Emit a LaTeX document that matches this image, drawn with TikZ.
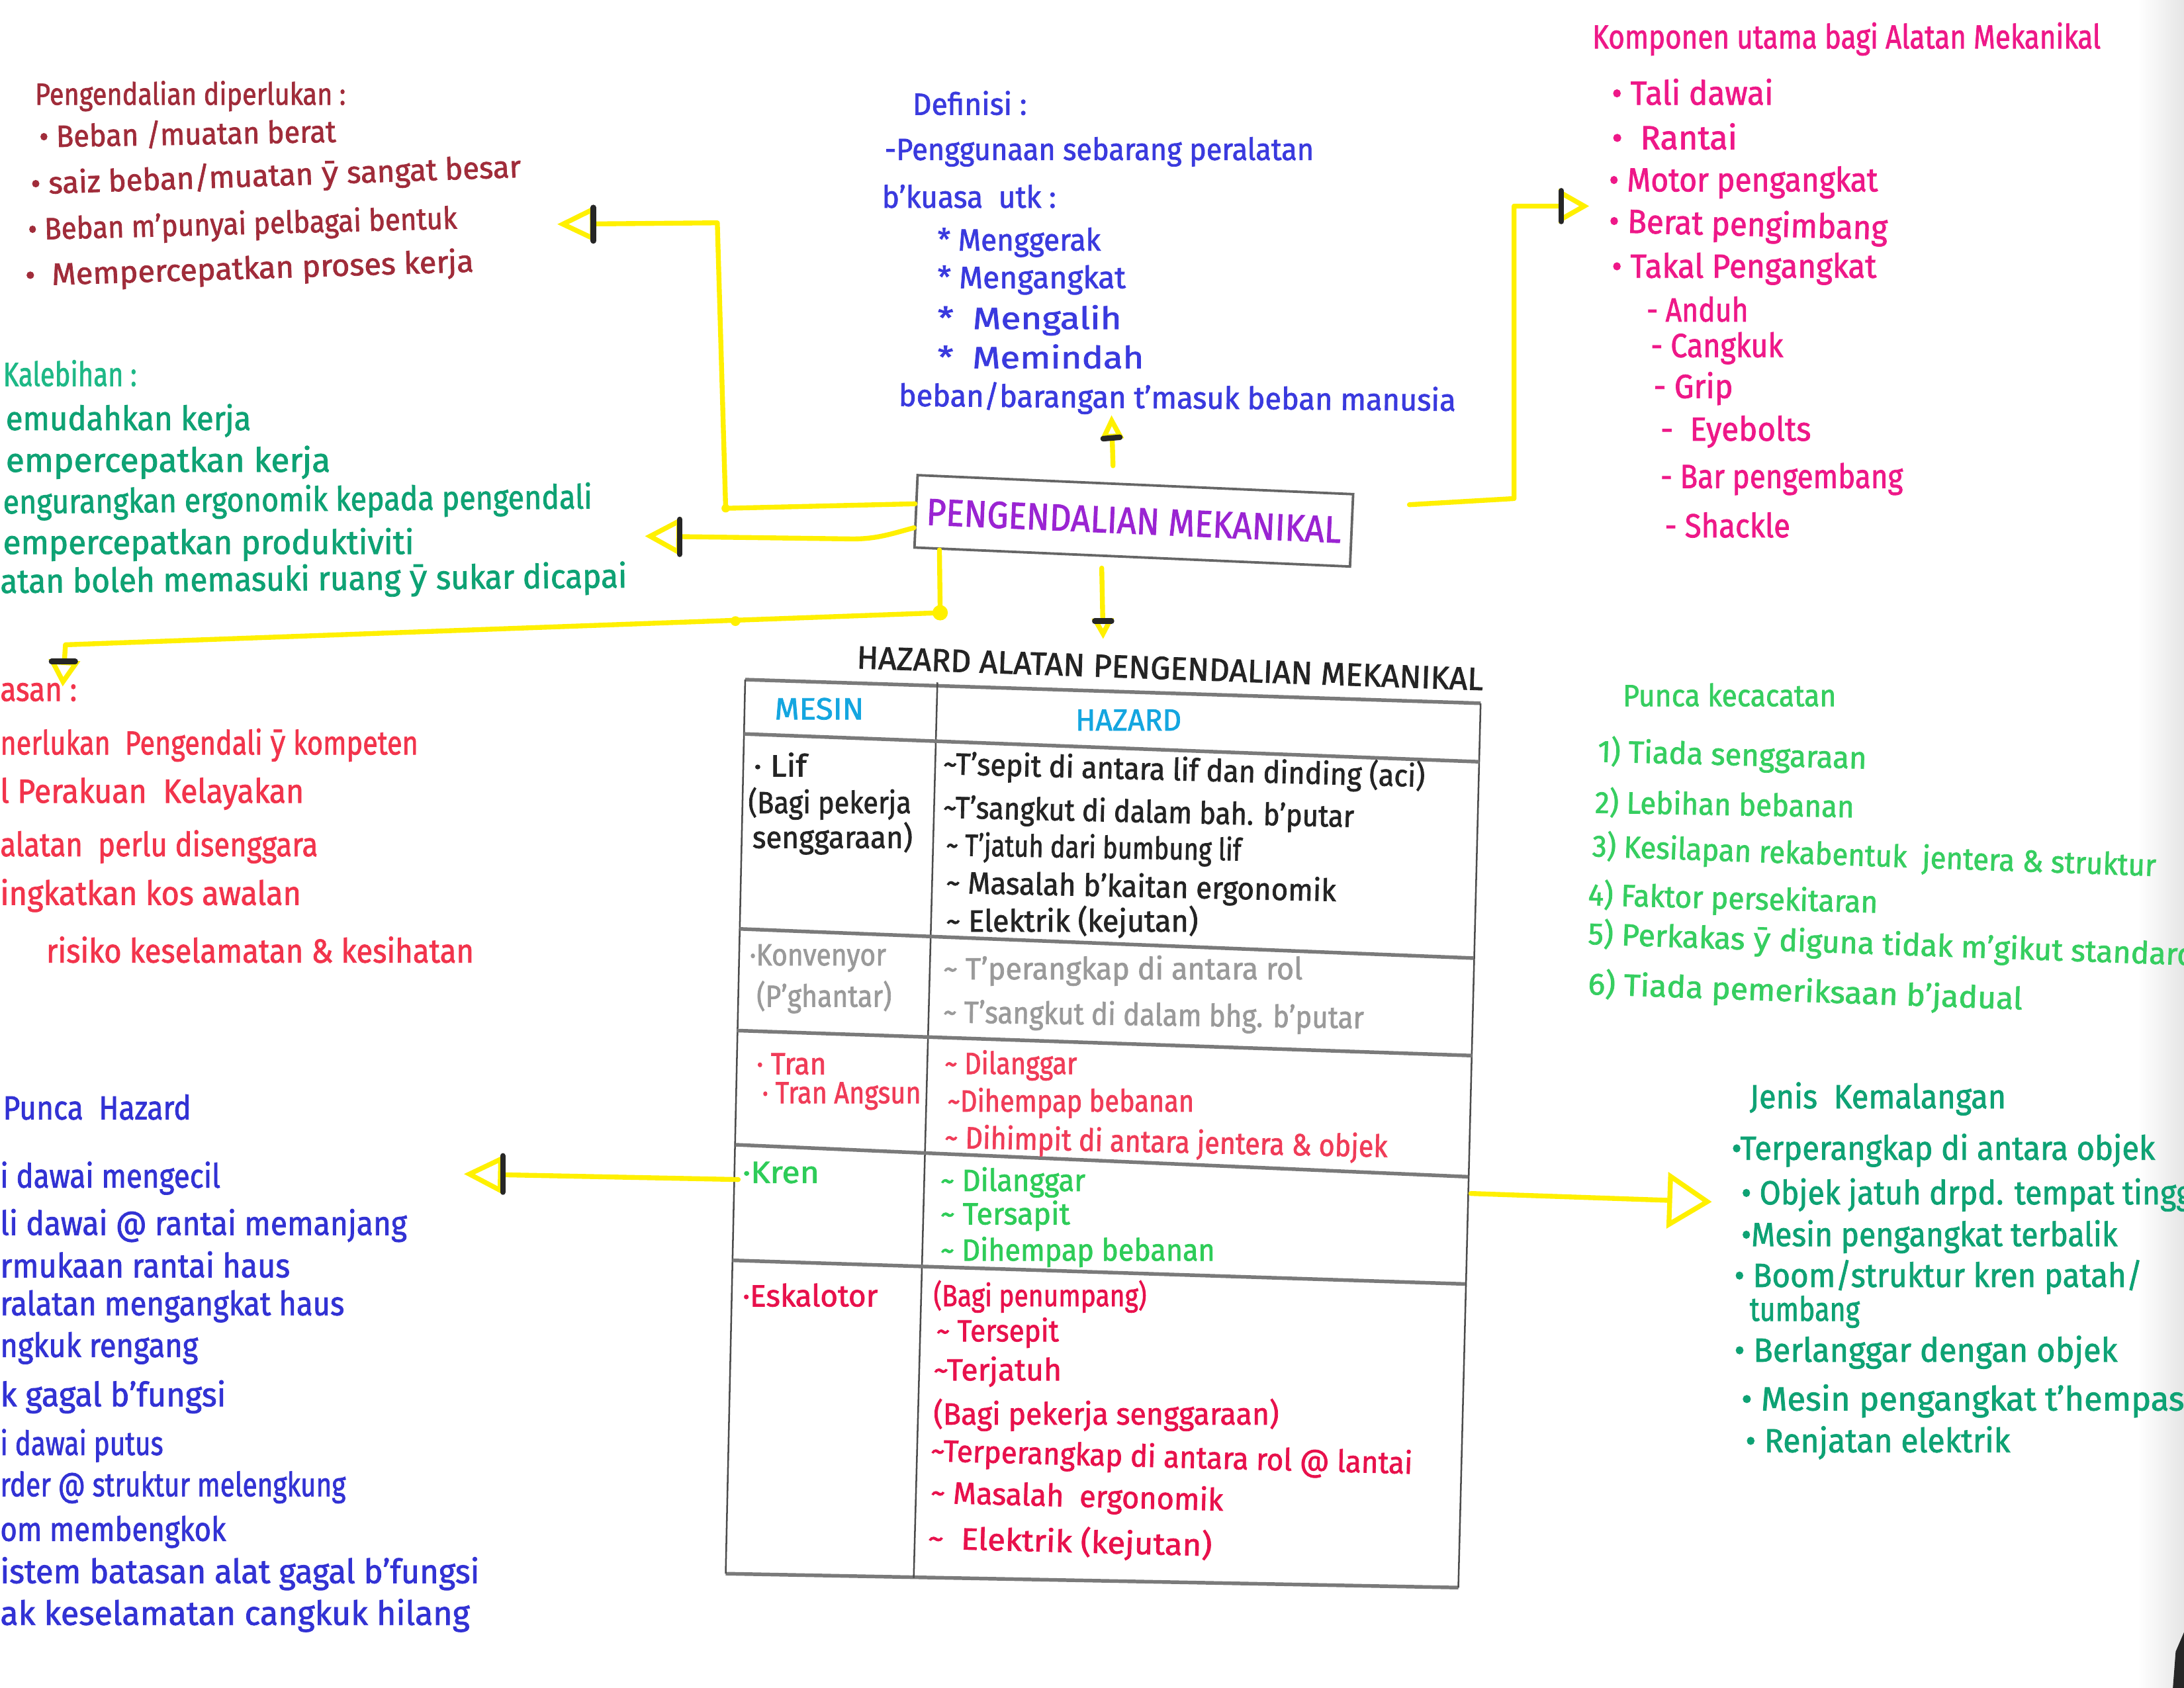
\documentclass[tikz,border=0pt]{standalone}
\usepackage{fontspec}
\setmainfont{Fira Sans}[FakeBold=1.6]
\newfontfamily\djv{DejaVu Sans}[FakeBold=1.6]
\usetikzlibrary{arrows.meta,calc}
\definecolor{cMaroon}{HTML}{A02C3A}
\definecolor{cDef}{HTML}{3A3ADE}
\definecolor{cMag}{HTML}{EE1888}
\definecolor{cTeal}{HTML}{0EA274}
\definecolor{cTealL}{HTML}{1EB886}
\definecolor{cRed}{HTML}{F2344C}
\definecolor{cPurp}{HTML}{9A24D2}
\definecolor{cCyan}{HTML}{14A6E0}
\definecolor{cInk}{HTML}{242424}
\definecolor{cGrayT}{HTML}{9A9A9A}
\definecolor{cTran}{HTML}{F03C58}
\definecolor{cKren}{HTML}{2ECC58}
\definecolor{cEsk}{HTML}{E8114C}
\definecolor{cPk}{HTML}{36CE60}
\definecolor{cHz}{HTML}{3232D4}
\definecolor{cYel}{HTML}{FFF000}
\definecolor{cLine}{HTML}{7A7A7A}
\newcommand{\tw}[2]{\resizebox{#1pt}{\height}{#2}}
\newcommand{\yy}{{\djv ȳ}}
\newcommand{\tl}{\textasciitilde}
\tikzset{
 txt/.style={anchor=west, inner sep=0pt, font=\fontsize{24}{26}\selectfont},
 tsm/.style={anchor=west, inner sep=0pt, font=\fontsize{22}{24}\selectfont},
 pdT/.style={tsm, text=cMaroon},
 dfT/.style={tsm, text=cDef},
 kpT/.style={txt, text=cMag},
 klT/.style={txt, text=cTeal},
 kkT/.style={txt, text=cRed},
 phT/.style={txt, text=cHz},
 pkT/.style={tsm, text=cPk},
 jkT/.style={txt, text=cTeal},
 tbT/.style={tsm},
 yline/.style={draw=cYel, line width=3.5pt, line join=round, line cap=round},
 bbar/.style={draw=black!85, line width=4pt, line cap=round},
 hrule/.style={draw=cLine, line width=2.6pt},
 vrule/.style={draw=black!70, line width=1.2pt}
}
\begin{document}
\begin{tikzpicture}[x=1pt,y=-1pt]
\useasboundingbox (0,0) rectangle (1568,1212);
\fill[white] (0,0) rectangle (1568,1212);
\shade[left color=white, right color=black!10] (1535,0) rectangle (1568,1212);
\fill[black!85] (1568,1172) -- (1562,1186) -- (1560,1212) -- (1568,1212) -- cycle;

% ---------- Pengendalian diperlukan ----------
\node[pdT] (pd0) at (25,69) {\tw{223}{Pengendalian diperlukan :}};
\node[pdT, rotate=1] (pd1) at (28,98) {\tw{213}{• Beban /muatan berat}};
\node[pdT, rotate=2] (pd2) at (22,133) {\tw{352}{• saiz beban/muatan \yy\ sangat besar}};
\node[pdT, rotate=1.5] (pd3) at (20,166) {\tw{308}{• Beban m’punyai pelbagai bentuk}};
\node[pdT, rotate=1.8] (pd4) at (18,199) {\tw{322}{•\ \ Mempercepatkan proses kerja}};

% ---------- Definisi ----------
\node[dfT] (df0) at (655,74) {\tw{82}{Definisi :}};
\node[dfT] (df1) at (635,109) {\tw{308}{-Penggunaan sebarang peralatan}};
\node[dfT] (df2) at (633,141) {\tw{125}{b’kuasa\ \ utk :}};
\node[dfT] (df3) at (673,174) {\tw{117}{* Menggerak}};
\node[dfT] (df4) at (673,201) {\tw{135}{* Mengangkat}};
\node[dfT] (df5) at (673,230) {\tw{132}{*\ \ Mengalih}};
\node[dfT] (df6) at (673,256) {\tw{148}{*\ \ Memindah}};
\node[dfT, rotate=-0.5] (df7) at (645,285) {\tw{400}{beban/barangan t’masuk beban manusia}};

% ---------- Komponen ----------
\node[kpT] (kp0) at (1143,28) {\tw{365}{Komponen utama bagi Alatan Mekanikal}};
\node[kpT] (kp1) at (1157,66) {\tw{116}{• Tali dawai}};
\node[kpT] (kp2) at (1157,98) {\tw{90}{•\ \ Rantai}};
\node[kpT] (kp3) at (1155,131) {\tw{193}{• Motor pengangkat}};
\node[kpT, rotate=-1.5] (kp4) at (1155,160) {\tw{200}{• Berat pengimbang}};
\node[kpT] (kp5) at (1157,193) {\tw{190}{• Takal Pengangkat}};
\node[kpT] (kp6) at (1182,222) {\tw{73}{- Anduh}};
\node[kpT] (kp7) at (1185,250) {\tw{95}{- Cangkuk}};
\node[kpT] (kp8) at (1187,279) {\tw{57}{- Grip}};
\node[kpT] (kp9) at (1192,310) {\tw{108}{-\ \ Eyebolts}};
\node[kpT] (kp10) at (1192,344) {\tw{174}{- Bar pengembang}};
\node[kpT] (kp11) at (1195,377) {\tw{90}{- Shackle}};

% ---------- Kelebihan ----------
\node[klT, text=cTealL] (kl0) at (2,268) {\tw{96}{Kalebihan :}};
\node[klT] (kl1) at (4,302) {\tw{176}{emudahkan kerja}};
\node[klT] (kl2) at (4,332) {\tw{233}{empercepatkan kerja}};
\node[klT, rotate=0.5] (kl3) at (2,362) {\tw{423}{engurangkan ergonomik kepada pengendali}};
\node[klT] (kl4) at (2,391) {\tw{295}{empercepatkan produktiviti}};
\node[klT, rotate=0.5] (kl5) at (0,419) {\tw{450}{atan boleh memasuki ruang \yy\ sukar dicapai}};

% ---------- Kekurangan ----------
\node[kkT] (kk0) at (0,497) {\tw{55}{asan :}};
\node[kkT] (kk1) at (0,535) {\tw{300}{nerlukan\ \ Pengendali \yy\ kompeten}};
\node[kkT] (kk2) at (0,570) {\tw{218}{l\ Perakuan\ \ Kelayakan}};
\node[kkT] (kk3) at (0,608) {\tw{228}{alatan\ \ perlu disenggara}};
\node[kkT] (kk4) at (0,643) {\tw{216}{ingkatkan kos awalan}};
\node[kkT] (kk5) at (33,682) {\tw{307}{risiko keselamatan \& kesihatan}};

% ---------- Punca Hazard ----------
\node[phT] (ph0) at (2,795) {\tw{135}{Punca\ \ Hazard}};
\node[phT] (ph1) at (0,846) {\tw{158}{i dawai mengecil}};
\node[phT] (ph2) at (0,880) {\tw{292}{li dawai @ rantai memanjang}};
\node[phT] (ph3) at (0,908) {\tw{208}{rmukaan rantai haus}};
\node[phT] (ph4) at (0,938) {\tw{247}{ralatan mengangkat haus}};
\node[phT] (ph5) at (0,968) {\tw{142}{ngkuk rengang}};
\node[phT] (ph6) at (0,1003) {\tw{162}{k gagal b’fungsi}};
\node[phT] (ph7) at (0,1038) {\tw{117}{i dawai putus}};
\node[phT] (ph8) at (0,1068) {\tw{248}{rder @ struktur melengkung}};
\node[phT] (ph9) at (0,1100) {\tw{162}{om membengkok}};
\node[phT] (ph10) at (0,1130) {\tw{344}{istem batasan alat gagal b’fungsi}};
\node[phT] (ph11) at (0,1160) {\tw{337}{ak keselamatan cangkuk hilang}};

% ---------- Central box ----------
\node[draw=black!60, line width=1.8pt, rotate=-2.5, minimum width=313pt, minimum height=52pt, inner sep=0pt, text=cPurp, font=\fontsize{27}{29}\selectfont] (pm) at (814,374) {\tw{298}{PENGENDALIAN MEKANIKAL}};

% ---------- Table ----------
\node[tbT, text=cInk, rotate=-2, font=\fontsize{23}{25}\selectfont] (tt) at (615,472) {\tw{450}{HAZARD ALATAN PENGENDALIAN MEKANIKAL}};
\coordinate (TL) at (535,488);
\coordinate (TR) at (1063,505);
\coordinate (BR) at (1047,1140);
\coordinate (BL) at (521,1130);
\draw[hrule] (TL) -- (TR);
\draw[hrule] (BL) -- (BR);
\draw[vrule] (TL) -- (BL);
\draw[vrule] (TR) -- (BR);
\draw[vrule] (673,490) -- (656,1133);
\draw[hrule] (534,527) -- (1062,547);
\draw[hrule] (531,667) -- (1058,688);
\draw[hrule] (529,740) -- (1057,758);
\draw[hrule] (528,822) -- (1054,845);
\draw[hrule] (526,905) -- (1052,922);

\node[tbT, text=cCyan] (mesin) at (556,509) {\tw{64}{MESIN}};
\node[tbT, text=cCyan] (hzd) at (772,517) {\tw{76}{HAZARD}};

\node[tbT, text=cInk] (t1a) at (541,549) {\tw{38}{· Lif}};
\node[tbT, text=cInk] (t1b) at (537,577) {\tw{117}{(Bagi pekerja}};
\node[tbT, text=cInk] (t1c) at (540,602) {\tw{115}{senggaraan)}};
\node[tbT, text=cInk, rotate=-1.5] (h1a) at (677,549) {\tw{346}{\tl T’sepit di antara lif dan dinding (aci)}};
\node[tbT, text=cInk, rotate=-1.3] (h1b) at (677,581) {\tw{295}{\tl T’sangkut di dalam bah. b’putar}};
\node[tbT, text=cInk, rotate=-1] (h1c) at (679,608) {\tw{212}{\tl\ T’jatuh dari bumbung lif}};
\node[tbT, text=cInk, rotate=-1.2] (h1d) at (679,635) {\tw{280}{\tl\ Masalah b’kaitan ergonomik}};
\node[tbT, text=cInk] (h1e) at (679,662) {\tw{181}{\tl\ Elektrik (kejutan)}};

\node[tbT, text=cGrayT] (t2a) at (538,688) {\tw{98}{·Konvenyor}};
\node[tbT, text=cGrayT] (t2b) at (543,716) {\tw{97}{(P’ghantar)}};
\node[tbT, text=cGrayT] (h2a) at (677,697) {\tw{258}{\tl\ T’perangkap di antara rol}};
\node[tbT, text=cGrayT, rotate=-0.8] (h2b) at (677,728) {\tw{302}{\tl\ T’sangkut di dalam bhg. b’putar}};

\node[tbT, text=cTran] (t3a) at (543,764) {\tw{50}{· Tran}};
\node[tbT, text=cTran] (t3b) at (547,787) {\tw{114}{· Tran Angsun}};
\node[tbT, text=cTran] (h3a) at (678,765) {\tw{95}{\tl\ Dilanggar}};
\node[tbT, text=cTran] (h3b) at (680,792) {\tw{177}{\tl Dihempap bebanan}};
\node[tbT, text=cTran, rotate=-1.2] (h3c) at (678,818) {\tw{318}{\tl\ Dihimpit di antara jentera \& objek}};

\node[tbT, text=cKren] (t4a) at (533,842) {\tw{55}{·Kren}};
\node[tbT, text=cKren] (h4a) at (675,849) {\tw{104}{\tl\ Dilanggar}};
\node[tbT, text=cKren] (h4b) at (675,873) {\tw{93}{\tl\ Tersapit}};
\node[tbT, text=cKren] (h4c) at (675,899) {\tw{197}{\tl\ Dihempap bebanan}};

\node[tbT, text=cEsk] (t5a) at (533,930) {\tw{97}{·Eskalotor}};
\node[tbT, text=cEsk] (h5a) at (670,931) {\tw{153}{(Bagi penumpang)}};
\node[tbT, text=cEsk] (h5b) at (672,957) {\tw{88}{\tl\ Tersepit}};
\node[tbT, text=cEsk] (h5c) at (670,985) {\tw{92}{\tl Terjatuh}};
\node[tbT, text=cEsk] (h5d) at (670,1016) {\tw{248}{(Bagi pekerja senggaraan)}};
\node[tbT, text=cEsk, rotate=-1.5] (h5e) at (668,1043) {\tw{346}{\tl Terperangkap di antara rol @ lantai}};
\node[tbT, text=cEsk, rotate=-1.5] (h5f) at (668,1073) {\tw{210}{\tl\ Masalah\ \ ergonomik}};
\node[tbT, text=cEsk, rotate=-1.5] (h5g) at (666,1105) {\tw{204}{\tl\ \ Elektrik (kejutan)}};

% ---------- Punca kecacatan ----------
\node[pkT] (pk0) at (1165,499) {\tw{153}{Punca kecacatan}};
\node[pkT, rotate=-1.5] (pk1) at (1147,540) {\tw{193}{1) Tiada senggaraan}};
\node[pkT, rotate=-1] (pk2) at (1145,576) {\tw{186}{2) Lebihan bebanan}};
\node[pkT, rotate=-2] (pk3) at (1143,608) {\tw{405}{3) Kesilapan rekabentuk\ \ jentera \& struktur}};
\node[pkT, rotate=-1.5] (pk4) at (1140,643) {\tw{208}{4) Faktor persekitaran}};
\node[pkT, rotate=-2] (pk5) at (1140,671) {\tw{436}{5) Perkakas \yy\ diguna tidak m’gikut standard}};
\node[pkT, rotate=-2] (pk6) at (1140,707) {\tw{312}{6) Tiada pemeriksaan b’jadual}};

% ---------- Jenis Kemalangan ----------
\node[jkT] (jk0) at (1256,789) {\tw{184}{Jenis\ \ Kemalangan}};
\node[jkT] (jk1) at (1243,826) {\tw{304}{•Terperangkap di antara objek}};
\node[jkT] (jk2) at (1250,858) {\tw{330}{• Objek jatuh drpd. tempat tinggi}};
\node[jkT] (jk3) at (1250,888) {\tw{270}{•Mesin pengangkat terbalik}};
\node[jkT] (jk4) at (1245,917) {\tw{293}{• Boom/struktur kren patah/}};
\node[jkT] (jk5) at (1256,942) {\tw{79}{tumbang}};
\node[jkT] (jk6) at (1245,971) {\tw{275}{• Berlanggar dengan objek}};
\node[jkT] (jk7) at (1250,1006) {\tw{318}{• Mesin pengangkat t’hempas}};
\node[jkT] (jk8) at (1253,1036) {\tw{190}{• Renjatan elektrik}};

% ---------- Connectors ----------
\coordinate (a1) at (400,161);
\coordinate (a2) at (463,385);
\coordinate (a3) at (45,493);
\coordinate (a4) at (798,298);
\coordinate (a5) at (792,459);
\coordinate (a6) at (1141,148);
\coordinate (a7) at (333,843);
\coordinate (a8) at (1229,863);
\coordinate (k7s) at (530,847);
\coordinate (k8s) at (1056,857);

\draw[yline, -{Triangle[open,length=27pt,width=25pt]}] ($(pm.north west)!0.4!(pm.south west)$) -- (521,365) -- (515,160) -- (a1);
\draw[bbar] (426,149) -- (426,173);

\draw[yline, -{Triangle[open,length=26pt,width=27pt]}] ($(pm.north west)!0.72!(pm.south west)$) to[out=195,in=0] (612,387) -- (a2);
\draw[bbar] (488,373) -- (488,398);

\draw[yline, -{Triangle[open,length=19pt,width=22pt]}] ($(pm.south west)!0.06!(pm.south east)$) -- (675,440) -- (47,463) -- (a3);
\draw[bbar] (37,475) -- (54,475);
\fill[cYel] (675,440) circle (5.5);
\fill[cYel] (528,446) circle (3.5);
\fill[cYel] (521,365) circle (3);

\draw[yline, shorten <=12pt, -{Triangle[open,length=17pt,width=16pt]}] ($(pm.north west)!0.45!(pm.north east)$) -- (a4);
\draw[bbar] (792,315) -- (804,314);

\draw[yline, shorten <=8pt, -{Triangle[open,length=15pt,width=15pt]}] ($(pm.south west)!0.43!(pm.south east)$) -- (a5);
\draw[bbar] (786,446) -- (798,446);

\draw[yline, shorten <=40pt, -{Triangle[open,length=22pt,width=24pt]}] ($(pm.north east)!0.2!(pm.south east)$) -- (1087,358) -- (1087,148) -- (a6);
\draw[bbar] (1121,137) -- (1121,159);

\draw[yline, -{Triangle[open,length=28pt,width=27pt]}] (k7s) -- (a7);
\draw[bbar] (361,830) -- (361,856);

\draw[yline, -{Triangle[open,length=32pt,width=40pt]}] (k8s) -- (a8);
\end{tikzpicture}
\end{document}
